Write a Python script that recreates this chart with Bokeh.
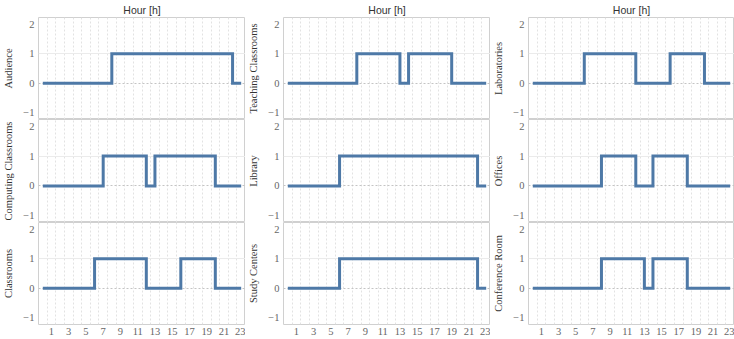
from bokeh.plotting import figure
from bokeh.layouts import gridplot
from bokeh.models import FixedTicker, Range1d, Grid
from bokeh.embed import file_html
from bokeh.resources import INLINE

# ---- data ----
hours = [0, 1, 2, 3, 4, 5, 6, 7, 8, 9, 10, 11, 12, 13, 14, 15, 16, 17, 18, 19, 20, 21, 22, 23]
x_ticks = [1, 3, 5, 7, 9, 11, 13, 15, 17, 19, 21, 23]
y_ticks = [-1, 0, 1, 2]

audience = [0, 0, 0, 0, 0, 0, 0, 0, 1, 1, 1, 1, 1, 1, 1, 1, 1, 1, 1, 1, 1, 1, 0, 0]
teaching_classrooms = [0, 0, 0, 0, 0, 0, 0, 0, 1, 1, 1, 1, 1, 0, 1, 1, 1, 1, 1, 0, 0, 0, 0, 0]
laboratories = [0, 0, 0, 0, 0, 0, 1, 1, 1, 1, 1, 1, 0, 0, 0, 0, 1, 1, 1, 1, 0, 0, 0, 0]
computing_classrooms = [0, 0, 0, 0, 0, 0, 0, 1, 1, 1, 1, 1, 0, 1, 1, 1, 1, 1, 1, 1, 0, 0, 0, 0]
library = [0, 0, 0, 0, 0, 0, 1, 1, 1, 1, 1, 1, 1, 1, 1, 1, 1, 1, 1, 1, 1, 1, 0, 0]
offices = [0, 0, 0, 0, 0, 0, 0, 0, 1, 1, 1, 1, 0, 0, 1, 1, 1, 1, 0, 0, 0, 0, 0, 0]
classrooms = [0, 0, 0, 0, 0, 0, 1, 1, 1, 1, 1, 1, 0, 0, 0, 0, 1, 1, 1, 1, 0, 0, 0, 0]
study_centers = [0, 0, 0, 0, 0, 0, 1, 1, 1, 1, 1, 1, 1, 1, 1, 1, 1, 1, 1, 1, 1, 1, 0, 0]
conference_room = [0, 0, 0, 0, 0, 0, 0, 0, 1, 1, 1, 1, 1, 0, 1, 1, 1, 1, 0, 0, 0, 0, 0, 0]

panels = [
    [("Audience", audience), ("Teaching Classrooms", teaching_classrooms), ("Laboratories", laboratories)],
    [("Computing Classrooms", computing_classrooms), ("Library", library), ("Offices", offices)],
    [("Classrooms", classrooms), ("Study Centers", study_centers), ("Conference Room", conference_room)],
]

# ---- styling ----
LINE = "#4e79a7"
SERIF = "Liberation Serif"
frame_w = [212, 211, 209]
left_b = [33, 34, 35]
frame_h = [103, 103, 102]
hour_grid = [h - 0.5 for h in range(25)]


def make(name, vals, r, c):
    top = 16 if r == 0 else 0
    bottom = 15 if r == 2 else 0
    kw = {}
    if r == 0:
        kw["title"] = "Hour [h]"
    p = figure(width=left_b[c] + frame_w[c], height=frame_h[r] + top + bottom,
               x_range=Range1d(-0.5, 23.5), y_range=Range1d(-1.22, 2.22),
               output_backend="svg", toolbar_location=None,
               x_axis_location="below" if r == 2 else None,
               min_border_left=left_b[c], min_border_right=0,
               min_border_top=top, min_border_bottom=bottom, **kw)
    p.background_fill_color = "white"
    p.border_fill_color = "white"
    p.outline_line_color = "#d0d0d0"
    p.outline_line_width = 1

    if r == 0:
        p.title.text_font = "Liberation Sans"
        p.title.text_font_size = "10.5px"
        p.title.text_font_style = "normal"
        p.title.text_color = "#333333"
        p.title.align = "center"
        if hasattr(p.title, "standoff"):
            p.title.standoff = 3

    # grids
    p.xgrid.ticker = FixedTicker(ticks=hour_grid)
    p.xgrid.grid_line_color = "#e2e2e2"
    p.xgrid.grid_line_dash = "2 2"
    p.ygrid.ticker = FixedTicker(ticks=[1])
    p.ygrid.grid_line_color = "#ebebeb"
    zero = Grid(dimension=1, ticker=FixedTicker(ticks=[0]),
                grid_line_color="#c4c4c4", grid_line_dash="2 2")
    p.add_layout(zero)

    # y axis
    ya = p.yaxis[0]
    ya.ticker = FixedTicker(ticks=y_ticks)
    ya.axis_line_color = None
    ya.major_tick_out = 0
    ya.major_tick_in = 0
    ya.minor_tick_out = 0
    ya.minor_tick_in = 0
    ya.major_label_standoff = 4
    ya.major_label_text_font = SERIF
    ya.major_label_text_font_size = "10.5px"
    ya.major_label_text_color = "#666666"
    ya.axis_label = name
    ya.axis_label_standoff = 6
    ya.axis_label_text_font = SERIF
    ya.axis_label_text_font_size = "10.5px"
    ya.axis_label_text_font_style = "normal"
    ya.axis_label_text_color = "#333333"

    if r == 2:
        xa = p.xaxis[0]
        xa.ticker = FixedTicker(ticks=x_ticks)
        xa.axis_line_color = None
        xa.major_tick_out = 0
        xa.major_tick_in = 0
        xa.minor_tick_out = 0
        xa.minor_tick_in = 0
        xa.major_label_standoff = 3
        xa.major_label_text_font = SERIF
        xa.major_label_text_font_size = "10.5px"
        xa.major_label_text_color = "#666666"

    p.step(hours, vals, mode="after", line_width=3, line_color=LINE, line_join="miter")
    return p


figs = [[make(name, vals, r, c) for c, (name, vals) in enumerate(row)] for r, row in enumerate(panels)]
grid = gridplot(figs, toolbar_location=None)

open("out.html", "w").write(file_html(grid, INLINE))
